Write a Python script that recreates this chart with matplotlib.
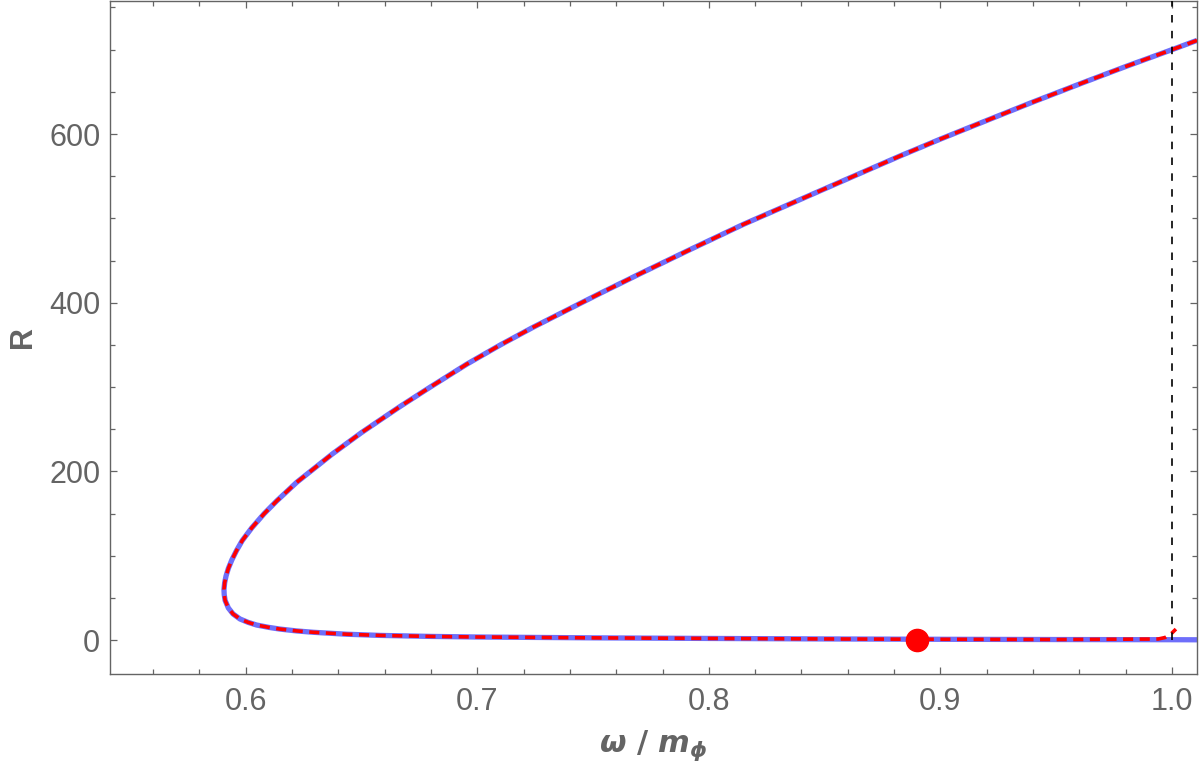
import matplotlib
matplotlib.use('Agg')

import matplotlib.pyplot as plt
from matplotlib.ticker import MultipleLocator, FixedLocator

plt.rcParams['font.family'] = ['Liberation Sans', 'DejaVu Sans']
plt.rcParams['mathtext.fontset'] = 'custom'
plt.rcParams['mathtext.it'] = 'DejaVu Sans:italic:bold'
plt.rcParams['mathtext.rm'] = 'DejaVu Sans:bold'
plt.rcParams['mathtext.bf'] = 'DejaVu Sans:bold'

# branch values (omega / m_phi, R)
upper_w = [1.0108, 1.0, 0.98, 0.9617, 0.94, 0.9172, 0.9, 0.8826, 0.86, 0.84,
           0.815, 0.7919, 0.77, 0.753, 0.74, 0.7242, 0.71, 0.6954, 0.68,
           0.6667, 0.65, 0.6371, 0.6307, 0.622, 0.6134, 0.608, 0.6026,
           0.5985, 0.596, 0.594, 0.5925, 0.5915, 0.5909, 0.5906]
upper_R = [711, 700, 680, 661, 638, 613, 594, 574, 547, 523,
           493, 463, 434, 411, 393, 371, 350, 327, 300.5,
           277, 246, 220, 206, 187, 165, 150, 133,
           118, 106, 95, 85, 76, 68, 60]

lower_w = [0.5906, 0.5907, 0.5911, 0.5925, 0.5945, 0.5975, 0.601, 0.6047,
           0.61, 0.6148, 0.622, 0.6292, 0.6436, 0.658, 0.68, 0.70, 0.75,
           0.80, 0.85, 0.90, 0.95, 1.0, 1.0108]
lower_R = [60, 54, 47, 38, 31, 25, 21, 17.8,
           15, 13, 10.8, 9.2, 6.9, 5.5, 4.3, 3.6, 2.6,
           1.9, 1.3, 0.9, 0.6, 0.4, 0.3]

# dashed (red) curve has a small upturn at the end
red_tail_w = [0.994, 0.997, 0.9995, 1.0017]
red_tail_R = [1.2, 3.0, 7.0, 13.0]

dot_w = [0.8899]
dot_R = [0.0]

vline_w = 1.0

xticks = [0.6, 0.7, 0.8, 0.9, 1.0]
xtick_labels = ['0.6', '0.7', '0.8', '0.9', '1.0']
yticks = [0, 200, 400, 600]

gray = '#646464'

fig = plt.figure(figsize=(12, 7.72), dpi=100)
ax = fig.add_axes([0.0917, 0.1269, 0.9058, 0.8718])

blue_w = upper_w + lower_w[1:]
blue_R = upper_R + lower_R[1:]
red_w = upper_w + lower_w[1:-2] + red_tail_w
red_R = upper_R + lower_R[1:-2] + red_tail_R

ax.plot(blue_w, blue_R, color='#6e6efa', lw=3.8, solid_capstyle='butt',
        solid_joinstyle='round', zorder=2)
ax.plot(red_w, red_R, color='red', lw=2.6, dashes=(2.8, 1.8), zorder=3)
ax.plot([vline_w, vline_w], [0, 800], color='black', lw=1.2, dashes=(4.5, 5), zorder=4)
ax.plot(dot_w, dot_R, 'o', color='red', markersize=16, zorder=5)

ax.set_xlim(0.5414, 1.0108)
ax.set_ylim(-40.3, 757.7)

ax.xaxis.set_major_locator(FixedLocator(xticks))
ax.set_xticklabels(xtick_labels)
ax.xaxis.set_minor_locator(MultipleLocator(0.02))
ax.yaxis.set_major_locator(FixedLocator(yticks))
ax.yaxis.set_minor_locator(MultipleLocator(50))

ax.tick_params(which='both', direction='in', top=True, right=True,
               color=gray, width=0.9, labelcolor=gray, labelsize=22)
ax.tick_params(which='major', length=5.2)
ax.tick_params(which='minor', length=3.3)
ax.tick_params(axis='y', pad=7)
ax.tick_params(axis='x', pad=9)

for sp in ax.spines.values():
    sp.set_color(gray)
    sp.set_linewidth(1.0)

ax.set_xlabel(r'$\omega\ /\ m_{\phi}$', fontsize=22, color=gray, labelpad=9)
ax.set_ylabel('R', fontsize=22, color=gray, fontweight='bold', labelpad=8)

fig.savefig('out.png', dpi=100)
plt.close(fig)
